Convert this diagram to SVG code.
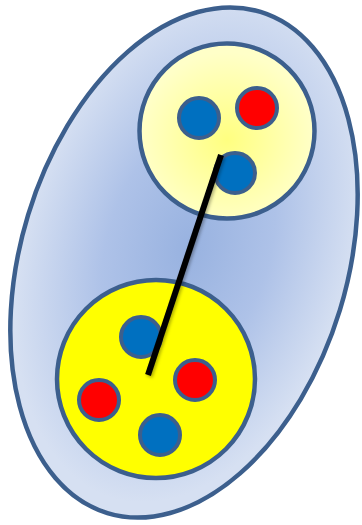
<svg xmlns="http://www.w3.org/2000/svg" width="362" height="525" viewBox="0 0 362 525">
  <defs>
    <radialGradient id="gBlue" cx="0.5" cy="0.47" r="0.5">
      <stop offset="0" stop-color="#98b2e0"/>
      <stop offset="0.5" stop-color="#aec2e8"/>
      <stop offset="1" stop-color="#d6e0f2"/>
    </radialGradient>
    <radialGradient id="gLight" cx="0.5" cy="0.55" r="0.5">
      <stop offset="0" stop-color="#ffff80"/>
      <stop offset="1" stop-color="#ffffc8"/>
    </radialGradient>
    <filter id="sh" x="-20%" y="-20%" width="140%" height="140%">
      <feDropShadow dx="1.5" dy="2" stdDeviation="1.5" flood-color="#000" flood-opacity="0.3"/>
    </filter>
  </defs>
  <style>
    .outline { stroke: #3c5f8d; stroke-width: 4.5; }
    .dot { stroke: #3c5f8d; stroke-width: 4; }
    .blue { fill: #0070c0; }
    .red { fill: #ff0000; }
    .link { stroke: #000; stroke-width: 6; stroke-linecap: butt; fill: none; }
  </style>
  <g id="cluster">
    <ellipse class="outline" cx="184" cy="262.5" rx="163" ry="262" transform="rotate(17 184 262.5)" fill="url(#gBlue)"/>
  </g>
  <g id="group-top">
    <circle class="outline" cx="227" cy="131" r="87.5" fill="url(#gLight)"/>
  </g>
  <g id="group-bottom">
    <circle class="outline" cx="156" cy="379" r="99" fill="#ffff00"/>
  </g>
  <g id="top-blue-1"><circle class="dot blue" cx="199" cy="118" r="20"/></g>
  <g id="top-red-1"><circle class="dot red" cx="257" cy="108" r="20"/></g>
  <g id="top-blue-2"><circle class="dot blue" cx="235" cy="173" r="20"/></g>
  <g id="bottom-blue-1"><circle class="dot blue" cx="141" cy="337" r="20"/></g>
  <g id="bottom-red-1"><circle class="dot red" cx="195" cy="380" r="20"/></g>
  <g id="bottom-red-2"><circle class="dot red" cx="99" cy="400" r="20"/></g>
  <g id="bottom-blue-2"><circle class="dot blue" cx="160" cy="435" r="20"/></g>
  <g id="connectors">
    <line class="link" x1="221" y1="155" x2="148" y2="375" filter="url(#sh)"/>
  </g>
</svg>
